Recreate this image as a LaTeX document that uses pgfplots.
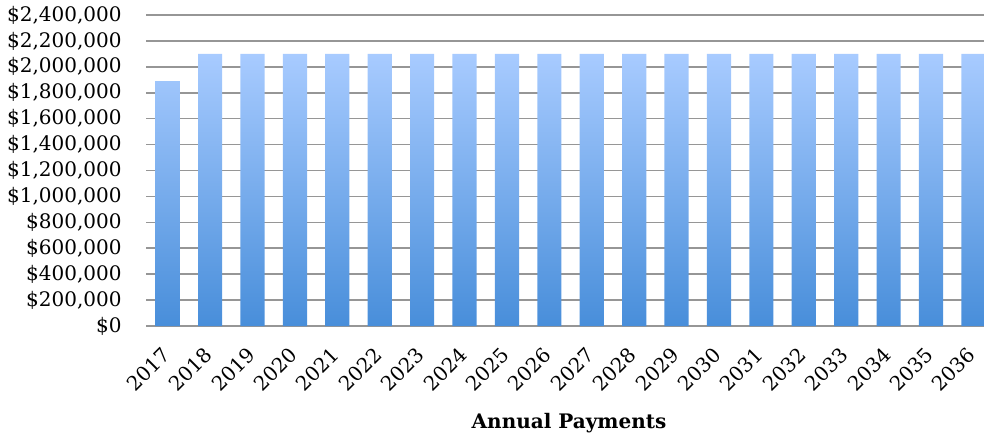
\documentclass[border=0pt]{standalone}
\usepackage{fontspec}
\setmainfont{DejaVu Serif}
\usepackage{pgfplots}
\pgfplotsset{compat=1.18}
\definecolor{gridgray}{RGB}{150,150,150}
\definecolor{bartop}{RGB}{168,203,255}
\definecolor{barbot}{RGB}{72,142,218}
\begin{document}
\begin{tikzpicture}
\begin{axis}[
  scale only axis,
  width=418.75pt, height=155.5pt,
  xmin=-0.5, xmax=19.25,
  ymin=0, ymax=2400000,
  ytick={0,200000,...,2400000},
  xtick=data,
  xticklabels={2017,2018,2019,2020,2021,2022,2023,2024,2025,2026,2027,2028,2029,2030,2031,2032,2033,2034,2035,2036},
  /pgf/number format/assume math mode=true,
  scaled y ticks=false,
  yticklabel={\$\pgfmathprintnumber[fixed,precision=0,1000 sep={,}]{\tick}},
  axis line style={draw=none},
  major tick length=0pt,
  ymajorgrids,
  grid style={gridgray, line width=0.8pt},
  font=\fontsize{10}{12}\selectfont,
  yticklabel style={anchor=east, inner sep=0pt, xshift=-12.25pt, font=\fontsize{10}{12}\selectfont},
  xticklabel style={anchor=north east, inner sep=0pt, yshift=-9.5pt, xshift=-3.5pt, rotate=45, font=\fontsize{10}{12}\selectfont},
  xlabel={\bfseries Annual Payments},
  xlabel style={at={(axis description cs:0.5045,0)}, anchor=base, yshift=-51pt, inner sep=0pt, font=\fontsize{10}{12}\selectfont},
  ybar, bar width=0.57, bar shift=0pt,
]
\addplot[draw=none, top color=bartop, bottom color=barbot] coordinates {
(0,1890000) (1,2100000) (2,2100000) (3,2100000) (4,2100000)
(5,2100000) (6,2100000) (7,2100000) (8,2100000) (9,2100000)
(10,2100000) (11,2100000) (12,2100000) (13,2100000) (14,2100000)
(15,2100000) (16,2100000) (17,2100000) (18,2100000) (19,2100000)
};
\end{axis}
\pgfresetboundingbox
\path[use as bounding box] (-73.25pt,-54pt) rectangle (418.75pt,163pt);
\end{tikzpicture}
\end{document}
